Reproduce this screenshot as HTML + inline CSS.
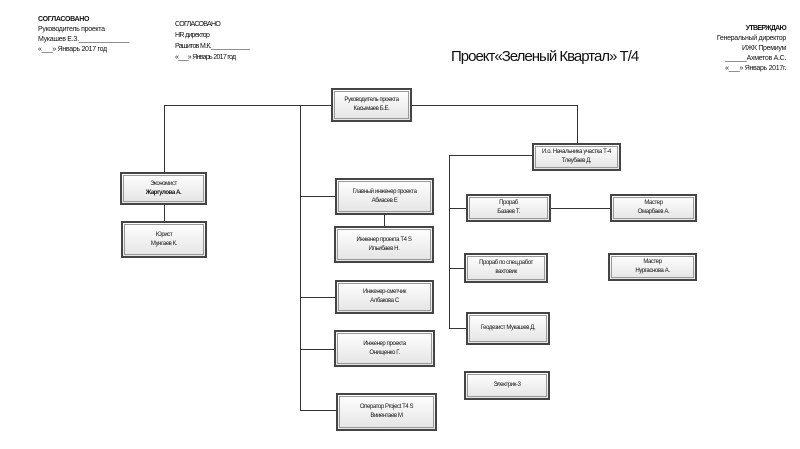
<!DOCTYPE html>
<html><head><meta charset="utf-8"><style>
body{margin:0;background:#fff;width:800px;height:449px;position:relative;overflow:hidden;font-family:"Liberation Sans",sans-serif;color:#111}
.t{position:absolute;font-size:7px;line-height:10px;white-space:nowrap;letter-spacing:-0.3px}
.b{position:absolute;box-sizing:border-box;border:2px solid #444;background:linear-gradient(#fff,#e4e4e4);display:flex;align-items:center;justify-content:center;text-align:center;font-size:6px;line-height:9px;letter-spacing:-0.4px}
.b::before{content:"";position:absolute;left:1px;top:1px;right:1px;bottom:1px;border:1px solid #999}
.b span{position:relative}
.h{position:absolute;height:1px;background:#333}
.v{position:absolute;width:1px;background:#333}
</style></head><body>
<div class="t" style="left:38px;top:15px;font-weight:bold">СОГЛАСОВАНО</div>
<div class="t" style="left:38px;top:25px">Руководитель проекта</div>
<div class="t" style="left:38px;top:35px">Мукашев Е.З.______________</div>
<div class="t" style="left:38px;top:45px">«___» Январь 2017 год</div>
<div class="t" style="left:175px;top:20px;letter-spacing:-0.7px">СОГЛАСОВАНО</div>
<div class="t" style="left:175px;top:31px;letter-spacing:-0.7px">HR директор</div>
<div class="t" style="left:175px;top:42px;letter-spacing:-0.7px">Рашитов М.К.____________</div>
<div class="t" style="left:175px;top:53px;letter-spacing:-0.7px">«___» Январь 2017 год</div>
<div class="t" style="right:14px;top:24px;font-weight:bold;letter-spacing:-0.7px">УТВЕРЖДАЮ</div>
<div class="t" style="right:14px;top:34px">Генеральный директор</div>
<div class="t" style="right:14px;top:44px">ИЖК Премиум</div>
<div class="t" style="right:14px;top:54px">______Ахметов А.С.</div>
<div class="t" style="right:14px;top:64px">«___» Январь 2017г.</div>
<div class="t" style="left:451px;top:48px;font-size:15px;line-height:18px;letter-spacing:-1px">Проект«Зеленый Квартал» Т/4</div>

<div class="h" style="left:164px;top:105px;width:413px"></div>
<div class="v" style="left:164px;top:105px;height:67px"></div>
<div class="v" style="left:164px;top:205px;height:16px"></div>
<div class="v" style="left:577px;top:105px;height:38px"></div>
<div class="v" style="left:300px;top:105px;height:306px"></div>
<div class="h" style="left:300px;top:196px;width:35px"></div>
<div class="h" style="left:300px;top:297px;width:35px"></div>
<div class="h" style="left:300px;top:349px;width:35px"></div>
<div class="h" style="left:300px;top:410px;width:36px"></div>
<div class="v" style="left:384px;top:215px;height:11px"></div>
<div class="v" style="left:449px;top:155px;height:174px"></div>
<div class="h" style="left:449px;top:155px;width:83px"></div>
<div class="h" style="left:449px;top:208px;width:17px"></div>
<div class="h" style="left:449px;top:268px;width:15px"></div>
<div class="h" style="left:449px;top:328px;width:17px"></div>
<div class="h" style="left:551px;top:208px;width:59px"></div>

<div class="b" style="left:331px;top:88px;width:81px;height:34px"><span>Руководитель проекта<br>Касымаев Б.Е.</span></div>
<div class="b" style="left:120px;top:172px;width:87px;height:33px"><span>Экономист<br><b>Жаргулова А.</b></span></div>
<div class="b" style="left:121px;top:221px;width:86px;height:37px"><span>Юрист<br>Мунгаев К.</span></div>
<div class="b" style="left:335px;top:178px;width:99px;height:37px"><span>Главный инженер проекта<br>Абиасев Е</span></div>
<div class="b" style="left:334px;top:226px;width:100px;height:37px"><span>Инженер проекта Т4 S<br>Ильибаев Н.</span></div>
<div class="b" style="left:335px;top:280px;width:99px;height:34px"><span>Инженер-сметчик<br>Албакова С</span></div>
<div class="b" style="left:334px;top:330px;width:101px;height:37px"><span>Инженер проекта<br>Онищенко Г.</span></div>
<div class="b" style="left:336px;top:393px;width:101px;height:38px"><span>Оператор Project T4 S<br>Вииентаев М</span></div>
<div class="b" style="left:532px;top:143px;width:89px;height:28px"><span>И.о. Начальника участка Т-4<br>Тлеубаев Д.</span></div>
<div class="b" style="left:466px;top:194px;width:85px;height:28px"><span>Прораб<br>Базаев Т.</span></div>
<div class="b" style="left:610px;top:194px;width:87px;height:28px"><span>Мастер<br>Омарбаев А.</span></div>
<div class="b" style="left:464px;top:253px;width:84px;height:30px"><span>Прораб по спец.работ<br>вахтовик</span></div>
<div class="b" style="left:608px;top:253px;width:89px;height:28px"><span>Мастер<br>Нургаснова А.</span></div>
<div class="b" style="left:466px;top:312px;width:84px;height:33px"><span>Геодезист Мукашев Д.</span></div>
<div class="b" style="left:464px;top:371px;width:86px;height:29px"><span>Электрик-3</span></div>
</body></html>
